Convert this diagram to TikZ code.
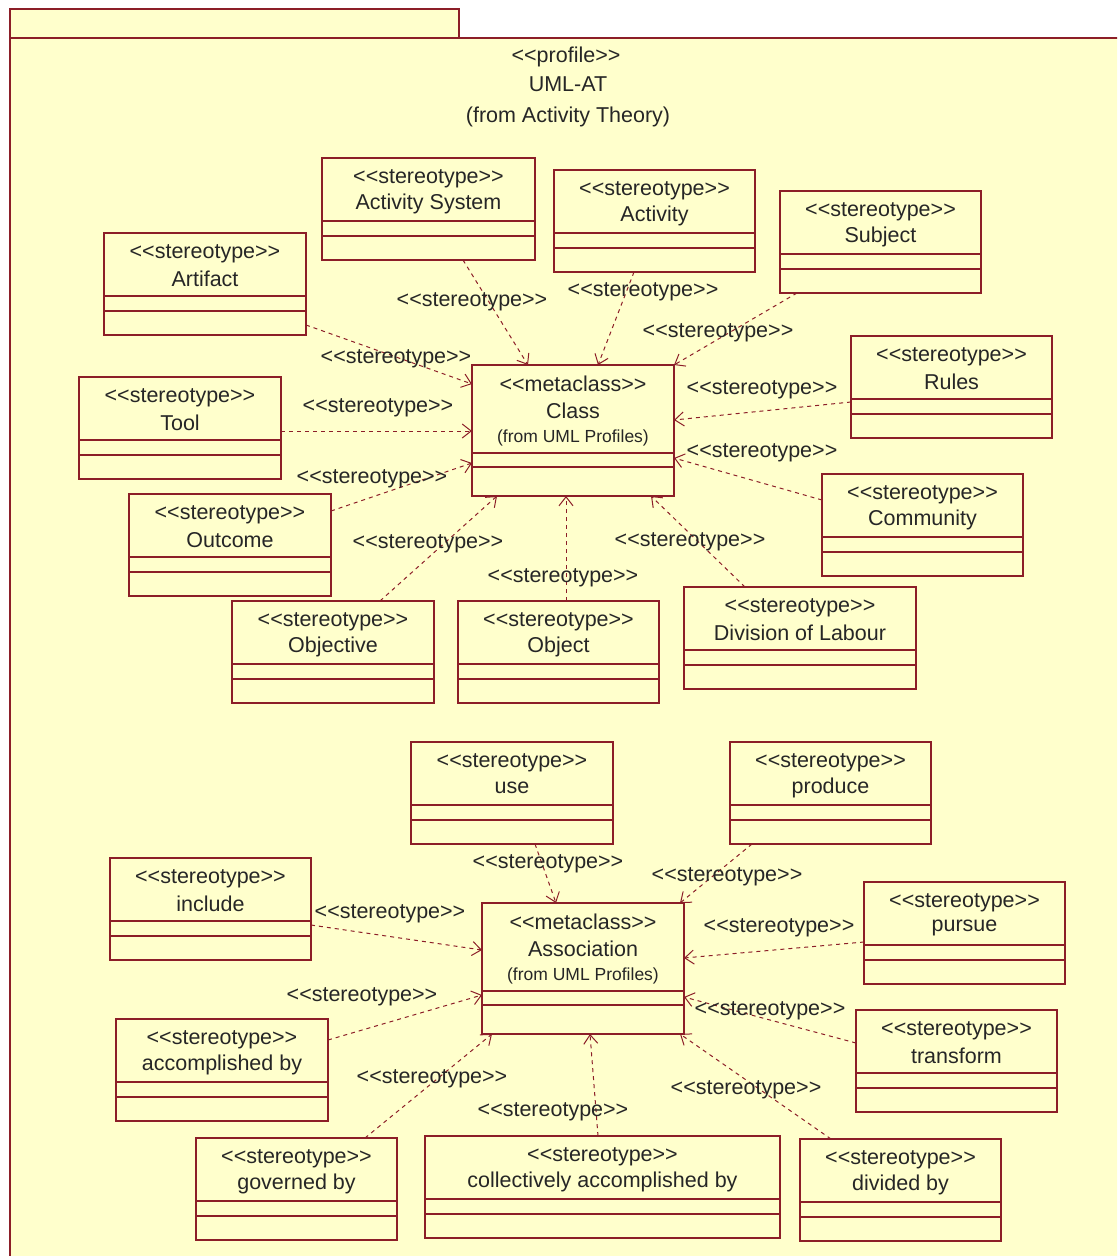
\documentclass[tikz,border=0pt]{standalone}
\usepackage{fontspec}
\newfontfamily\umlfont{Liberation Sans}
\usetikzlibrary{arrows.meta,calc}
\definecolor{umlred}{RGB}{140,30,40}
\definecolor{umlfill}{RGB}{255,255,204}
\tikzset{
  umlbox/.style={draw=umlred, fill=umlfill, line width=1.3pt, inner sep=0pt, outer sep=0pt, rectangle},
  umlline/.style={draw=umlred, line width=1.3pt},
  umltext/.style={font=\umlfont\fontsize{21.5}{24}\selectfont, inner sep=0pt, text=black!85},
  umlsmall/.style={font=\umlfont\fontsize{17.5}{20}\selectfont, inner sep=0pt, text=black!85},
  conn/.style={draw=umlred, line width=1pt, dash pattern=on 4pt off 4pt,
    -{Straight Barb[length=9pt,width=14pt,line width=1pt]}},
  lbl/.style={font=\umlfont\fontsize{21.5}{24}\selectfont, inner sep=0pt, text=black!85}
}
\newcommand\StBox[5]{%
  \node[umlbox, minimum width={#4-#2}, minimum height=102, anchor=north west] (#1) at (#2,#3) {};
  \draw[umlline] ([yshift=-63pt]#1.north west) -- ([yshift=-63pt]#1.north east)
                 ([yshift=-78pt]#1.north west) -- ([yshift=-78pt]#1.north east);
  \node[umltext] (#1-st) at ({(#2+#4)/2},{#3+21}) {<<stereotype>>};
  \node[umltext] (#1-nm) at ({(#2+#4)/2},{#3+46}) {#5};
}
\newcommand\MetaBox[5]{%
  \node[umlbox, minimum width={#4-#2}, minimum height=131, anchor=north west] (#1) at (#2,#3) {};
  \draw[umlline] ([yshift=-88pt]#1.north west) -- ([yshift=-88pt]#1.north east)
                 ([yshift=-102pt]#1.north west) -- ([yshift=-102pt]#1.north east);
  \node[umltext] (#1-st) at ({(#2+#4)/2},{#3+19}) {<<metaclass>>};
  \node[umltext] (#1-nm) at ({(#2+#4)/2},{#3+46}) {#5};
  \node[umlsmall] (#1-fr) at ({(#2+#4)/2},{#3+73}) {(from UML Profiles)};
}
\begin{document}
\begin{tikzpicture}[x=1pt,y=-1pt]
\useasboundingbox (0,0) rectangle (1117,1256);
\fill[white] (0,0) rectangle (1117,1256);
\clip (0,0) rectangle (1117,1256);
% package frame
\filldraw[draw=umlred, fill=umlfill, line width=1.3pt] (10,9) rectangle (459,38);
\filldraw[draw=umlred, fill=umlfill, line width=1.3pt] (10,38) rectangle (1130,1270);
\node[umltext] (pk-st) at (566,57) {<<profile>>};
\node[umltext] (pk-nm) at (568,84) {UML-AT};
\node[umltext] (pk-fr) at (568,117) {(from Activity Theory)};

% upper group
\MetaBox{class}{472}{365}{674}{Class}
\StBox{asys}{322}{158}{535}{Activity System}
\StBox{act}{554}{170}{755}{Activity}
\StBox{subj}{780}{191}{981}{Subject}
\StBox{art}{104}{233}{306}{Artifact}
\StBox{rules}{851}{336}{1052}{Rules}
\StBox{tool}{79}{377}{281}{Tool}
\StBox{comm}{822}{474}{1023}{Community}
\StBox{outc}{129}{494}{331}{Outcome}
\StBox{objv}{232}{601}{434}{Objective}
\StBox{obj}{458}{601}{659}{Object}
\StBox{div}{684}{587}{916}{Division of Labour}

% lower group
\MetaBox{assoc}{482}{903}{684}{Association}
\StBox{use}{411}{742}{613}{use}
\StBox{prod}{730}{742}{931}{produce}
\StBox{incl}{110}{858}{311}{include}
\StBox{purs}{864}{882}{1065}{pursue}
\StBox{accb}{116}{1019}{328}{accomplished by}
\StBox{trans}{856}{1010}{1057}{transform}
\StBox{gov}{196}{1138}{397}{governed by}
\StBox{coll}{425}{1136}{780}{collectively accomplished by}
\StBox{divb}{800}{1139}{1001}{divided by}

% connectors to Class
\draw[conn] ([xshift=141pt]asys.south west) -- ([xshift=56pt]class.north west);
\draw[conn] ([xshift=80pt]act.south west) -- ([xshift=126pt]class.north west);
\draw[conn] ([xshift=17pt]subj.south west) -- (class.north east);
\draw[conn] ([yshift=10pt]art.south east) -- ([yshift=-19pt]class.north west);
\draw[conn] ([yshift=-54pt]tool.north east) -- ([yshift=-66pt]class.north west);
\draw[conn] ([yshift=-17pt]outc.north east) -- ([yshift=-98pt]class.north west);
\draw[conn] ([xshift=148pt]objv.north west) -- ([xshift=25pt]class.south west);
\draw[conn] ([xshift=108pt]obj.north west) -- ([xshift=94pt]class.south west);
\draw[conn] ([xshift=61pt]div.north west) -- ([xshift=-23pt]class.south east);
\draw[conn] ([yshift=-26pt]comm.north west) -- ([yshift=-93pt]class.north east);
\draw[conn] ([yshift=-66pt]rules.north west) -- ([yshift=-55pt]class.north east);

% connectors to Association
\draw[conn] ([xshift=124pt]use.south west) -- ([xshift=74pt]assoc.north west);
\draw[conn] ([xshift=22pt]prod.south west) -- ([xshift=-4pt]assoc.north east);
\draw[conn] ([yshift=-67pt]incl.north east) -- ([yshift=-47pt]assoc.north west);
\draw[conn] ([yshift=-60pt]purs.north west) -- ([yshift=-55pt]assoc.north east);
\draw[conn] ([yshift=-21pt]accb.north east) -- ([yshift=-92pt]assoc.north west);
\draw[conn] ([yshift=-33pt]trans.north west) -- ([yshift=-94pt]assoc.north east);
\draw[conn] ([xshift=169pt]gov.north west) -- ([xshift=10pt]assoc.south west);
\draw[conn] ([xshift=173pt]coll.north west) -- ([xshift=108pt]assoc.south west);
\draw[conn] ([xshift=31pt]divb.north west) -- ([xshift=-4pt]assoc.south east);

% connector labels
\node[lbl] (l1) at (472,302) {<<stereotype>>};
\node[lbl] (l2) at (643,292) {<<stereotype>>};
\node[lbl] (l3) at (718,333) {<<stereotype>>};
\node[lbl] (l4) at (396,359) {<<stereotype>>};
\node[lbl] (l5) at (378,408) {<<stereotype>>};
\node[lbl] (l6) at (372,479) {<<stereotype>>};
\node[lbl] (l7) at (428,544) {<<stereotype>>};
\node[lbl] (l8) at (563,578) {<<stereotype>>};
\node[lbl] (l9) at (690,542) {<<stereotype>>};
\node[lbl] (l10) at (762,453) {<<stereotype>>};
\node[lbl] (l11) at (762,390) {<<stereotype>>};
\node[lbl] (l12) at (548,864) {<<stereotype>>};
\node[lbl] (l13) at (727,877) {<<stereotype>>};
\node[lbl] (l14) at (390,914) {<<stereotype>>};
\node[lbl] (l15) at (779,928) {<<stereotype>>};
\node[lbl] (l16) at (362,997) {<<stereotype>>};
\node[lbl] (l17) at (770,1011) {<<stereotype>>};
\node[lbl] (l18) at (432,1079) {<<stereotype>>};
\node[lbl] (l19) at (553,1112) {<<stereotype>>};
\node[lbl] (l20) at (746,1090) {<<stereotype>>};
\end{tikzpicture}
\end{document}
